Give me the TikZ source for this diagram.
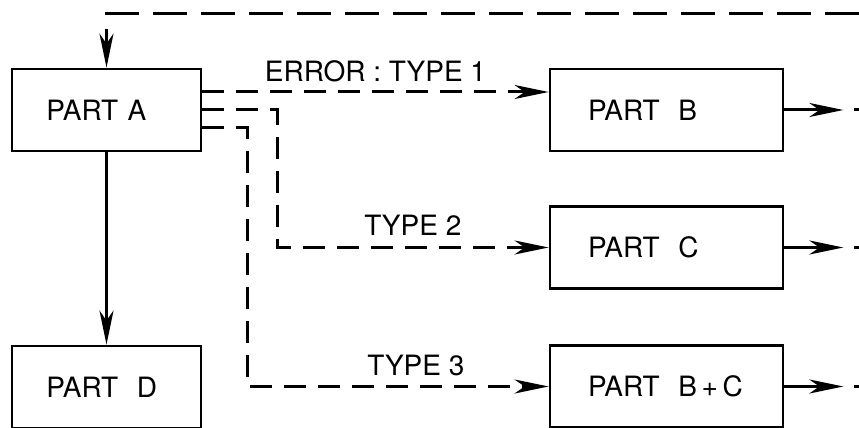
\documentclass[tikz,border=0pt]{standalone}
\usepackage{fontspec}
\setmainfont{TeX Gyre Heros}
\usetikzlibrary{arrows.meta,positioning}

\begin{document}
\begin{tikzpicture}[x=0.5pt,y=0.5pt,>={Stealth[length=17pt,width=7pt,inset=5pt]},
  line width=1.5pt,auto,font=\fontsize{14}{16}\selectfont]
  \tikzstyle{part}=[draw, rectangle, line width=1.4pt, minimum height=41pt, align=left]
  \tikzstyle{partsmall}=[part, text width=60pt, inner xsep=17.25pt]
  \tikzstyle{partlarge}=[part, text width=78.5pt, inner xsep=19pt]
  \tikzstyle{flow}=[->, dash pattern=on 11pt off 6pt]
  \tikzstyle{feedback}=[->, dash pattern=on 17pt off 7pt]
  \tikzstyle{onward}=[dash pattern=on 10pt off 5.5pt, dash phase=10pt]

  \useasboundingbox (0,0) rectangle (859,428);

  \node[partsmall] (partA)  at (106.5,318)   {PART~A};
  \node[partlarge] (partB)  at (666.5,318)   {PART~~B};
  \node[partlarge] (partC)  at (666.5,180.5) {PART~~C};
  \node[partlarge] (partBC) at (666.5,41.5)  {PART~~B\,+\,C};
  \node[partsmall] (partD)  at (106.5,41)    {PART~~D};

  \coordinate (a1)     at ([yshift=9pt]partA.east);
  \coordinate (a3)     at ([yshift=-9pt]partA.east);
  \coordinate (turnC)  at (277,180.5);
  \coordinate (turnBC) at (247,41.5);
  \coordinate (feed)   at (859,414);

  \path
  (partA) edge[->]  (partD)
  (a1)    edge[flow] node[yshift=1pt] {ERROR : TYPE 1} (a1 -| partB.west)
  ;
  \draw[flow] (partA.east) -| (turnC) -- node[yshift=2pt] {TYPE 2} (partC.west);
  \draw[flow] (a3) -| (turnBC) -- node[pos=0.56,yshift=1pt] {TYPE 3} (partBC.west);
  \draw[feedback] (feed) -| (partA.north);

  \foreach \p in {partB,partC,partBC} {
    \coordinate (\p tip) at ([xshift=29.5pt]\p.east);
    \coordinate (\p end) at ([xshift=38pt]\p.east);
    \draw[->] (\p.east) -- (\p tip);
    \draw[onward] (\p tip) -- (\p end);
  }
\end{tikzpicture}
\end{document}
